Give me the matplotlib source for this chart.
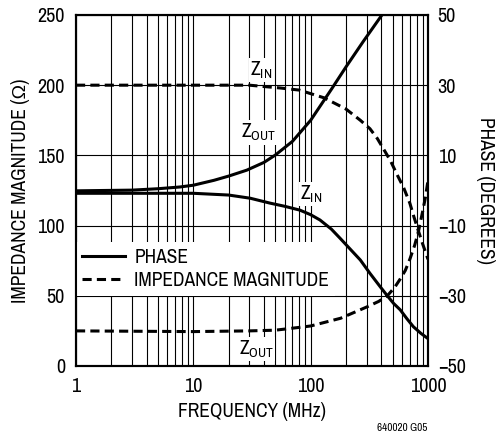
import matplotlib
matplotlib.use('Agg')
import matplotlib.pyplot as plt
from matplotlib.ticker import FixedLocator, NullFormatter, LogLocator

plt.rcParams['font.family'] = ['Archivo Narrow', 'Liberation Sans', 'DejaVu Sans']
plt.rcParams['mathtext.fontset'] = 'custom'
plt.rcParams['mathtext.rm'] = 'Archivo Narrow'
plt.rcParams['axes.unicode_minus'] = True

# impedance magnitude (ohm), left axis
f_zin_mag = [1, 10, 30, 55, 80, 130, 200, 265, 320, 370, 415, 480, 540, 620, 700, 760, 830, 900, 1000]
zin_mag = [200, 200, 200, 198, 196.5, 191, 183, 175, 169, 162, 155, 146, 137, 127, 116, 106, 96, 87, 76]
f_zout_mag = [1, 10, 30, 50, 80, 100, 180, 300, 380, 450, 520, 580, 640, 700, 770, 830, 900, 950, 1000]
zout_mag = [25, 24.5, 25, 25.5, 27.5, 28.5, 34, 42, 46, 50, 56, 62, 68, 76, 86, 96, 110, 120, 132]

# phase (degrees), right axis
f_zout_ph = [1, 3, 5, 7.7, 10, 15, 20, 28.6, 40, 50, 70, 100, 150, 200, 280, 405, 500]
zout_ph = [-0.1, 0.1, 0.5, 1.0, 1.5, 2.9, 4.1, 5.8, 8.0, 10.1, 14.0, 20.0, 28.8, 35.2, 42.4, 50.0, 54.8]
f_zin_ph = [1, 10, 20, 30.5, 45, 60, 81, 100, 120, 150, 178, 220, 265, 320, 391, 450, 510, 580,
            660, 750, 870, 1000]
zin_ph = [-0.8, -0.8, -1.3, -2.2, -3.6, -4.5, -5.6, -6.9, -8.4, -11.0, -13.6, -16.9, -19.8, -23.6,
          -27.4, -30.0, -32.2, -34.0, -36.5, -38.8, -40.7, -42.2]

left_ticks = [0, 50, 100, 150, 200, 250]
right_ticks = [-50, -30, -10, 10, 30, 50]
x_ticks = [1, 10, 100, 1000]

fig = plt.figure(figsize=(4.96, 4.34), dpi=100)
ax = fig.add_axes([0.1532, 0.1567, 0.7097, 0.8088])
ax2 = ax.twinx()

ax.set_xscale('log')
ax.set_xlim(1, 1000)
ax.set_ylim(0, 250)
ax2.set_ylim(-50, 50)

ax.xaxis.set_major_locator(FixedLocator(x_ticks))
ax.set_xticklabels([str(t) for t in x_ticks])
ax.xaxis.set_minor_locator(LogLocator(base=10, subs=range(2, 10)))
ax.xaxis.set_minor_formatter(NullFormatter())
ax.set_yticks(left_ticks)
ax2.set_yticks(right_ticks)
ax2.set_yticklabels([str(t).replace('-', '\u2212') for t in right_ticks])

ax.grid(True, which='both', axis='x', color='black', lw=0.8)
ax.grid(True, which='major', axis='y', color='black', lw=0.8)

fs = 14
for a in (ax, ax2):
    a.tick_params(which='both', length=0, labelsize=14.5)
    for s in a.spines.values():
        s.set_linewidth(1.5)
ax.tick_params(axis='x', pad=8)
ax.tick_params(axis='y', pad=8)
ax2.tick_params(axis='y', pad=7)

dash = (3, 1.7)
ax.plot(f_zin_mag, zin_mag, color='black', lw=2.2, dashes=dash)
ax.plot(f_zout_mag, zout_mag, color='black', lw=2.2, dashes=dash)
ax2.plot(f_zout_ph, zout_ph, color='black', lw=2.2, solid_joinstyle='round')
ax2.plot(f_zin_ph, zin_ph, color='black', lw=2.2, solid_joinstyle='round')

box = dict(facecolor='white', edgecolor='none', pad=1)
ax.text(37.8, 210.8, r'Z$_{\mathrm{IN}}$', ha='center', va='center', fontsize=fs, bbox=box)
ax.text(36, 166.3, r'Z$_{\mathrm{OUT}}$', ha='center', va='center', fontsize=fs, bbox=box)
ax.text(100.7, 122.5, r'Z$_{\mathrm{IN}}$', ha='center', va='center', fontsize=fs, bbox=box)
ax.text(34.3, 12.1, r'Z$_{\mathrm{OUT}}$', ha='center', va='center', fontsize=fs, bbox=box)

h1, = ax.plot([], [], color='black', lw=2.2)
h2, = ax.plot([], [], color='black', lw=2.2, dashes=dash)
leg = ax.legend([h1, h2], ['PHASE', 'IMPEDANCE MAGNITUDE'], loc='upper left',
                bbox_to_anchor=(0.0, 0.352), fontsize=fs, frameon=True,
                fancybox=False, framealpha=1, handlelength=2.2, handletextpad=0.5,
                borderaxespad=0, borderpad=0.3, labelspacing=0.2)
leg.get_frame().set_edgecolor('none')
leg.set_zorder(5)

ax.set_xlabel('FREQUENCY (MHz)', fontsize=fs, va='center')
ax.set_ylabel('IMPEDANCE MAGNITUDE (\u03a9)', fontsize=fs, va='center')
ax2.set_ylabel('PHASE (DEGREES)', fontsize=fs, rotation=270, va='center')
ax.xaxis.set_label_coords(0.501, -0.131)
ax.yaxis.set_label_coords(-0.158, 0.5)
ax2.yaxis.set_label_coords(1.162, 0.5)

fig.text(0.861, 0.014, '640020 G05', fontsize=8, ha='right', va='center')

fig.savefig('out.png', dpi=100)
